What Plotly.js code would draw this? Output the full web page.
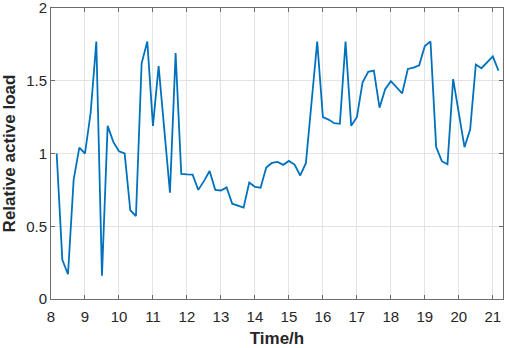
<!DOCTYPE html>
<html>
<head>
<meta charset="utf-8">
<script src="https://cdn.plot.ly/plotly-3.0.1.min.js"></script>
<style>html,body{margin:0;padding:0;background:#fff;}#chart{width:505px;height:348px;}</style>
</head>
<body>
<div id="chart"></div>
<script>
// Time in hours (10-minute samples)
const timeH = [
  8.1667, 8.3333, 8.5, 8.6667, 8.8333, 9.0, 9.1667, 9.3333, 9.5, 9.6667, 9.8333,
  10.0, 10.1667, 10.3333, 10.5, 10.6667, 10.8333, 11.0, 11.1667, 11.3333, 11.5, 11.6667, 11.8333,
  12.0, 12.1667, 12.3333, 12.5, 12.6667, 12.8333, 13.0, 13.1667, 13.3333, 13.5, 13.6667, 13.8333,
  14.0, 14.1667, 14.3333, 14.5, 14.6667, 14.8333, 15.0, 15.1667, 15.3333, 15.5, 15.6667, 15.8333,
  16.0, 16.1667, 16.3333, 16.5, 16.6667, 16.8333, 17.0, 17.1667, 17.3333, 17.5, 17.6667, 17.8333,
  18.0, 18.1667, 18.3333, 18.5, 18.6667, 18.8333, 19.0, 19.1667, 19.3333, 19.5, 19.6667, 19.8333,
  20.0, 20.1667, 20.3333, 20.5, 20.6667, 20.8333, 21.0, 21.1667
];
// Relative active load
const relLoad = [
  1.00, 0.27, 0.17, 0.82, 1.04, 1.00, 1.28, 1.77, 0.16, 1.19, 1.08,
  1.015, 1.00, 0.61, 0.57, 1.62, 1.77, 1.19, 1.60, 1.16, 0.73, 1.69, 0.86,
  0.857, 0.855, 0.75, 0.81, 0.88, 0.75, 0.746, 0.767, 0.655, 0.64, 0.628, 0.80,
  0.771, 0.765, 0.903, 0.935, 0.942, 0.922, 0.949, 0.924, 0.849, 0.933, 1.35, 1.77,
  1.25, 1.233, 1.208, 1.204, 1.77, 1.19, 1.249, 1.488, 1.561, 1.57, 1.315, 1.442,
  1.497, 1.454, 1.413, 1.581, 1.59, 1.606, 1.738, 1.77, 1.044, 0.947, 0.926, 1.511,
  1.283, 1.044, 1.165, 1.611, 1.586, 1.625, 1.668, 1.57
];
const xTicks = [8,9,10,11,12,13,14,15,16,17,18,19,20,21];
const yTicks = [0,0.5,1,1.5,2];

const font = 'Liberation Sans, Arial, Helvetica, sans-serif';
const axisCommon = {
  showline: true, linecolor: '#6b6b6b', linewidth: 1, mirror: 'allticks',
  ticks: 'inside', ticklen: 4, tickcolor: '#6b6b6b', tickwidth: 1,
  showgrid: true, gridcolor: '#e3e3e3', gridwidth: 1, zeroline: false,
  ticklabeloverflow: 'allow',
  tickfont: {family: font, size: 15, color: '#262626'}
};
Plotly.newPlot('chart', [{
  x: timeH, y: relLoad, type: 'scatter', mode: 'lines',
  line: {color: '#0072BD', width: 1.8}
}], {
  width: 505, height: 348,
  margin: {l: 51, r: 2, t: 8, b: 49},
  paper_bgcolor: '#fff', plot_bgcolor: '#fff',
  showlegend: false,
  xaxis: Object.assign({}, axisCommon, {
    range: [8, 21.3], tickvals: xTicks, ticktext: xTicks.map(String),
    ticklabelstandoff: 4,
    title: {text: '<b>Time/h</b>', font: {family: font, size: 17, color: '#262626'}, standoff: 8}
  }),
  yaxis: Object.assign({}, axisCommon, {
    range: [0, 2], tickvals: yTicks, ticktext: ['0','0.5','1','1.5','2'],
    title: {text: '<b>Relative active load</b>', font: {family: font, size: 17, color: '#262626'}, standoff: 6}
  })
}, {displayModeBar: false, staticPlot: true});
</script>
</body>
</html>
